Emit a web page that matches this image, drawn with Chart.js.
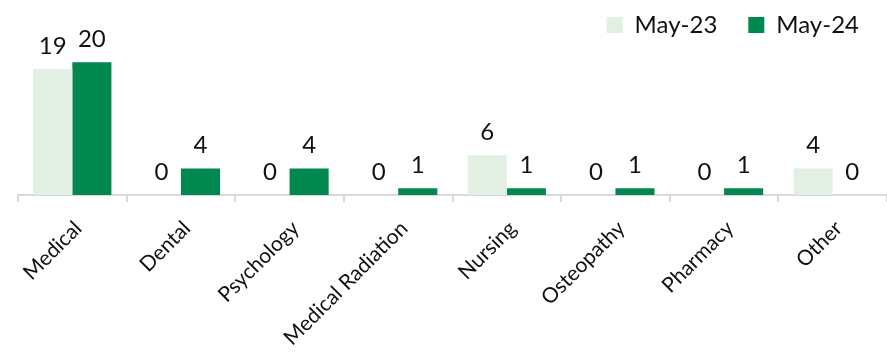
<!DOCTYPE html>
<html>
<head>
<meta charset="utf-8">
<script src="https://cdn.jsdelivr.net/npm/chart.js@4"></script>
<style>
  html, body { margin: 0; padding: 0; background: #fff; overflow: hidden; }
</style>
</head>
<body>
<canvas id="regChart" width="887" height="356"></canvas>
<script>
// Registrations by profession
const professions = ['Medical', 'Dental', 'Psychology', 'Medical Radiation', 'Nursing', 'Osteopathy', 'Pharmacy', 'Other'];
const may23 = [19, 0, 0, 0, 6, 0, 0, 4];
const may24 = [20, 4, 4, 1, 1, 1, 1, 0];

// Draw the value above each bar
const valueLabels = {
    id: 'valueLabels',
    afterDatasetsDraw(chart) {
        const ctx = chart.ctx;
        ctx.save();
        ctx.font = '24px Lato';
        ctx.fillStyle = '#111';
        ctx.textAlign = 'center';
        ctx.textBaseline = 'bottom';
        chart.data.datasets.forEach((ds, i) => {
            chart.getDatasetMeta(i).data.forEach((bar, j) => {
                ctx.fillText(ds.data[j], bar.x, bar.y - 11);
            });
        });
        ctx.restore();
    }
};

new Chart(document.getElementById('regChart'), {
    type: 'bar',
    data: {
        labels: professions,
        datasets: [
            {
                label: 'May-23',
                data: may23,
                backgroundColor: '#e2efe3'
            },
            {
                label: 'May-24',
                data: may24,
                backgroundColor: '#00884f'
            }
        ]
    },
    options: {
        responsive: false,
        animation: false,
        layout: { padding: { left: 18, right: -3, top: -18, bottom: 0 } },
        datasets: {
            bar: { categoryPercentage: 0.72, barPercentage: 1.0 }
        },
        scales: {
            x: {
                grid: {
                    offset: true,
                    drawOnChartArea: false,
                    drawTicks: true,
                    tickLength: 7,
                    color: '#d9d9d9',
                    lineWidth: 2
                },
                border: { color: '#d9d9d9', width: 2 },
                ticks: {
                    minRotation: 45,
                    maxRotation: 45,
                    color: '#111',
                    font: { family: 'Lato', size: 21 },
                    padding: 14,
                    labelOffset: 6
                },
                afterFit: (scale) => { scale.height = 161; }
            },
            y: {
                display: false,
                min: 0,
                max: 22.3
            }
        },
        plugins: {
            legend: {
                position: 'top',
                align: 'end',
                labels: {
                    boxWidth: 16,
                    boxHeight: 16,
                    padding: 31,
                    color: '#111',
                    font: { family: 'Lato', size: 24 }
                }
            },
            tooltip: { enabled: false }
        }
    },
    plugins: [valueLabels]
});
</script>
</body>
</html>
